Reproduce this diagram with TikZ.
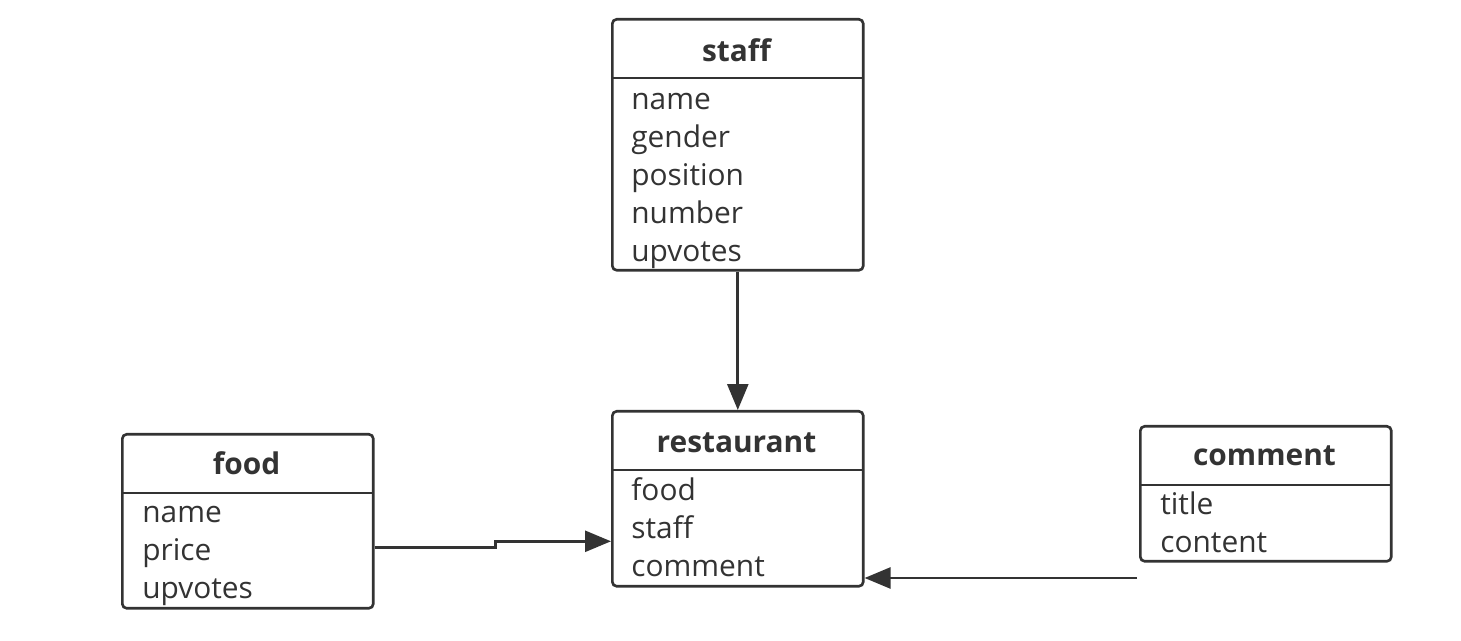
\documentclass[tikz,border=0pt]{standalone}
\usepackage{fontspec}
\setmainfont{Open Sans}
\usetikzlibrary{arrows.meta}
\definecolor{ink}{RGB}{51,51,51}
\tikzset{
  entity/.style={draw=ink, line width=1.5pt, rounded corners=2.5pt, minimum width=5.02cm, inner sep=0pt, anchor=north west},
  title/.style={font=\fontsize{17}{20}\selectfont\bfseries, text=ink, anchor=base},
  attr/.style={font=\fontsize{17}{20}\selectfont, text=ink, anchor=base west, inner sep=0pt},
  link/.style={draw=ink, line width=1.5pt, -{Triangle[length=0.52cm, width=0.42cm]}}
}
\begin{document}
\begin{tikzpicture}[x=0.02cm, y=-0.02cm]
      \useasboundingbox (0,0) rectangle (1461,641);
      % staff
      \node[entity, minimum height=5.02cm] (staff) at (611,18) {};
      \draw[draw=ink, line width=1.5pt] (611,78) -- (862,78);
      \node[title] (staffT) at (736.5,62) {staff};
      \node[attr] (staffA) at (631,110) {name};
      \node[attr] (staffB) at (631,148) {gender};
      \node[attr] (staffC) at (631,186) {position};
      \node[attr] (staffD) at (631,224) {number};
      \node[attr] (staffE) at (631,262) {upvotes};
      % restaurant
      \node[entity, minimum height=3.5cm] (restaurant) at (611,410) {};
      \draw[draw=ink, line width=1.5pt] (611,470) -- (862,470);
      \node[title] (restT) at (736.5,453) {restaurant};
      \node[attr] (restA) at (631,501) {food};
      \node[attr] (restB) at (631,539) {staff};
      \node[attr] (restC) at (631,577) {comment};
      % food
      \node[entity, minimum height=3.48cm] (food) at (121,433) {};
      \draw[draw=ink, line width=1.5pt] (121,493) -- (372,493);
      \node[title] (foodT) at (246.5,475) {food};
      \node[attr] (foodA) at (142,523) {name};
      \node[attr] (foodB) at (142,561) {price};
      \node[attr] (foodC) at (142,599) {upvotes};
      % comment
      \node[entity, minimum height=2.7cm] (comment) at (1139,425) {};
      \draw[draw=ink, line width=1.5pt] (1139,485) -- (1390,485);
      \node[title] (commT) at (1264.5,466) {comment};
      \node[attr] (commA) at (1160,515) {title};
      \node[attr] (commB) at (1160,553) {content};
      % links
      \draw[link] (staff.south) -- (restaurant.north);
      \draw[link] ([yshift=-0.52cm]food.east) -- ++(121,0) |- ([yshift=-0.85cm]restaurant.west);
      \coordinate (cfree) at (1137,578);
      \draw[link] (cfree) -- (restaurant.east |- cfree);
    \end{tikzpicture}
\end{document}
